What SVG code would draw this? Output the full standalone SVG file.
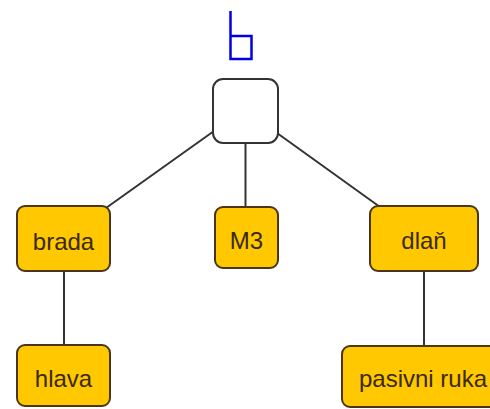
<svg xmlns="http://www.w3.org/2000/svg" width="490" height="409" viewBox="0 0 490 409">
<style>
.n{fill:#ffc800;stroke:#4a3616;stroke-width:2}
.t{font-family:"Liberation Sans",Arial,sans-serif;font-size:24px;fill:#3a2a08;text-anchor:middle}
.c{stroke:#333;stroke-width:2;fill:none}
</style>
<rect width="490" height="409" fill="#fff"/>
<g id="connectors">
<line class="c" x1="214" y1="131" x2="106" y2="208"/>
<line class="c" x1="245.5" y1="143" x2="245.5" y2="207"/>
<line class="c" x1="277" y1="133" x2="380" y2="207"/>
<line class="c" x1="64" y1="271" x2="64" y2="345"/>
<line class="c" x1="424" y1="271" x2="424" y2="346"/>
</g>
<g id="symbol">
<path d="M230.5 11 V59 H251.5 V36 H230.5" fill="none" stroke="#0000e6" stroke-width="2.5"/>
</g>
<g id="root">
<rect x="213" y="79" width="65" height="64" rx="10" fill="#fff" stroke="#333" stroke-width="2"/>
</g>
<g id="brada">
<rect class="n" x="17" y="206" width="93" height="65" rx="8"/>
<text class="t" x="63.5" y="250">brada</text>
</g>
<g id="m3">
<rect class="n" x="215" y="207" width="63" height="61" rx="8"/>
<text class="t" x="246.5" y="249">M3</text>
</g>
<g id="dlan">
<rect class="n" x="370" y="206" width="108" height="65" rx="8"/>
<text class="t" x="424" y="249">dlaň</text>
</g>
<g id="hlava">
<rect class="n" x="17" y="345" width="93" height="61" rx="8"/>
<text class="t" x="63.5" y="387">hlava</text>
</g>
<g id="pasivni">
<rect class="n" x="342" y="346" width="166" height="61" rx="8"/>
<text class="t" x="423" y="387">pasivni ruka</text>
</g>
</svg>
